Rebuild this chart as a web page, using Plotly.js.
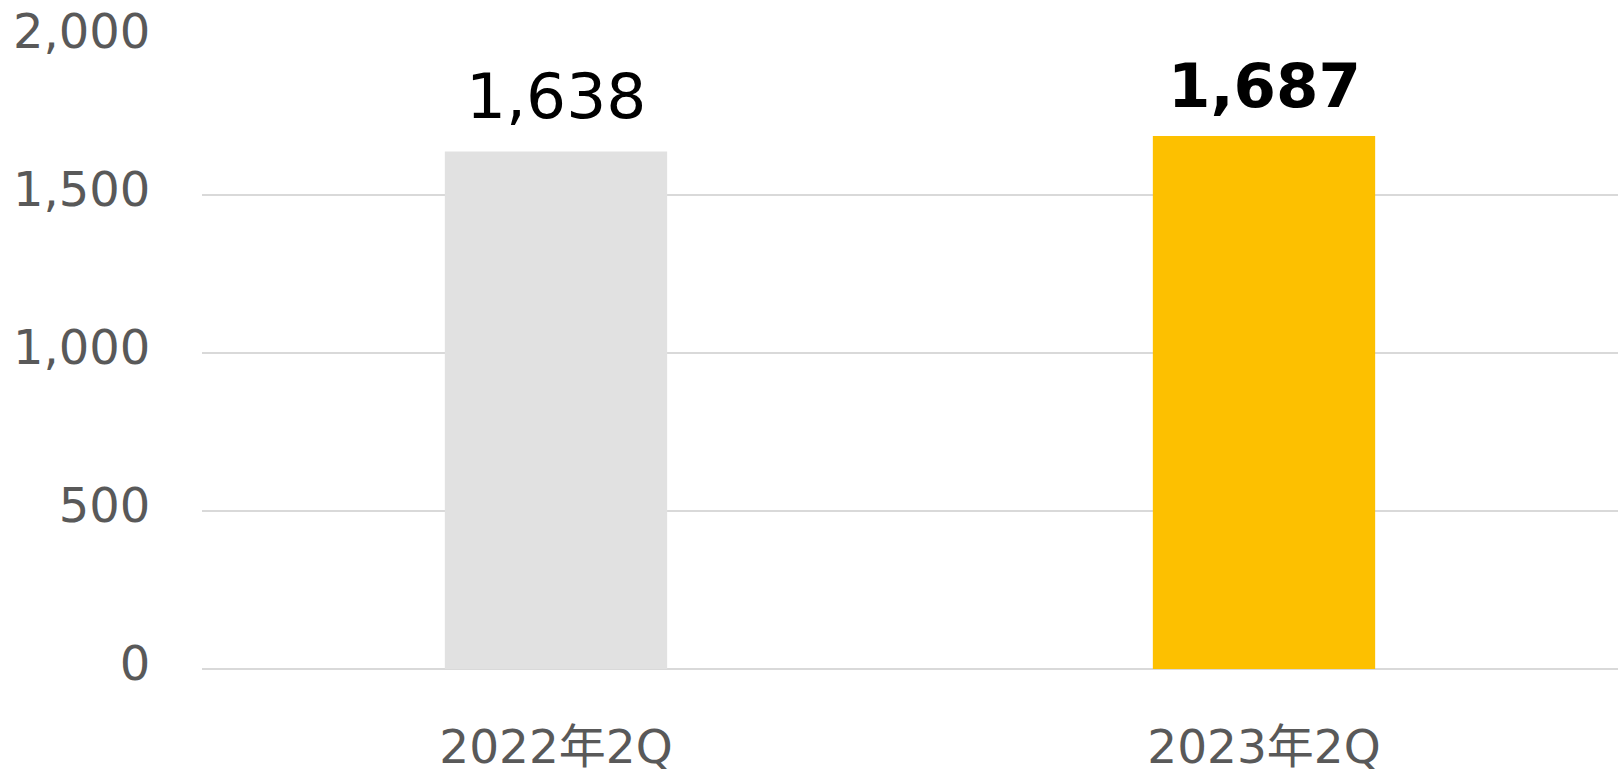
<!DOCTYPE html>
<html>
<head>
<meta charset="utf-8">
<script src="https://cdn.plot.ly/plotly-3.0.1.min.js"></script>
<style>html,body{margin:0;padding:0;background:#fff;}#chart{width:1621px;height:772px;}</style>
</head>
<body>
<div id="chart"></div>
<script>
const categories = ["2022年2Q", "2023年2Q"];
const values = [1638, 1687];
const barColors = ["#e1e1e1", "#fdc000"];
const labelWeights = ["normal", "bold"];
const labelSizes = [63, 61];
const labelShifts = [16, 13];
const yTicks = [0, 500, 1000, 1500, 2000];
const yTickLabels = ["0", "500", "1,000", "1,500", "2,000"];

const fmt = v => v.toLocaleString("en-US");

const trace = {
  type: "bar",
  x: categories,
  y: values,
  marker: { color: barColors, line: { width: 0 } },
  hoverinfo: "none"
};

const annotations = categories.map((c, i) => ({
  x: c, y: values[i], xref: "x", yref: "y",
  text: labelWeights[i] === "bold" ? "<b>" + fmt(values[i]) + "</b>" : fmt(values[i]),
  showarrow: false, yanchor: "bottom", yshift: labelShifts[i],
  font: { family: "DejaVu Sans, Verdana, sans-serif", size: labelSizes[i], color: "#000000" }
}));

const layout = {
  width: 1621, height: 772,
  margin: { l: 202, r: 3, t: 37, b: 103 },
  paper_bgcolor: "#ffffff", plot_bgcolor: "#ffffff",
  showlegend: false,
  bargap: 0.686,
  font: { family: "DejaVu Sans, Noto Sans CJK JP, sans-serif", color: "#595959" },
  xaxis: {
    type: "category",
    showgrid: false, zeroline: false, showline: false,
    ticks: "outside", ticklen: 37, tickcolor: "rgba(0,0,0,0)",
    tickfont: { family: "DejaVu Sans, Noto Sans CJK JP, sans-serif", size: 47, color: "#595959" }
  },
  yaxis: {
    range: [0, 2000],
    tickvals: yTicks, ticktext: yTickLabels,
    showgrid: true, gridcolor: "#d9d9d9", gridwidth: 2,
    zeroline: true, zerolinecolor: "#d9d9d9", zerolinewidth: 2,
    showline: false,
    ticks: "outside", ticklen: 41, tickcolor: "rgba(0,0,0,0)",
    ticklabelshift: -6,
    tickfont: { family: "DejaVu Sans, Verdana, sans-serif", size: 48, color: "#595959" }
  },
  annotations: annotations
};

Plotly.newPlot("chart", [trace], layout, { displayModeBar: false, staticPlot: true });
</script>
</body>
</html>
